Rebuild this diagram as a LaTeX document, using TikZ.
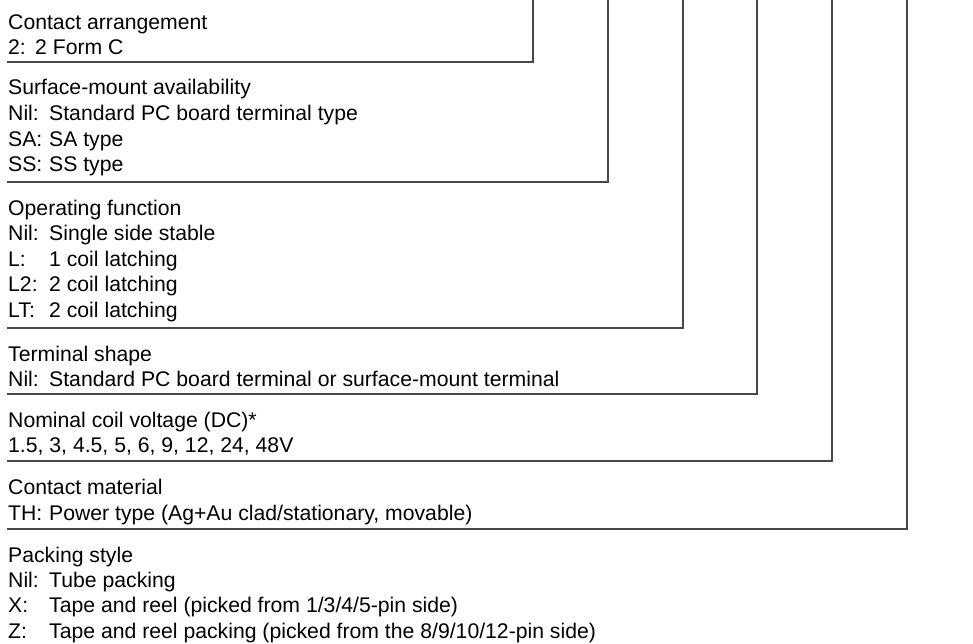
\documentclass[tikz,border=0pt]{standalone}
\usepackage{fontspec}
\setmainfont{Liberation Sans}
\newcommand\pfx[1]{\makebox[41pt][l]{#1}}
\tikzset{
  row/.style={anchor=base west, inner sep=0pt, font=\fontsize{21.2}{25}\selectfont},
  rule/.style={draw=black!72, line width=1.1pt}
}
\begin{document}
\begin{tikzpicture}[x=1pt,y=-1pt]
\useasboundingbox (0,0) rectangle (973,644);
% block 1
\node[row] (a1) at (8,29.5) {Contact arrangement};
\node[row] (a2) at (8,54.5) {\makebox[27pt][l]{2:}2 Form C};
\draw[rule] (7,62) -- (533,62) -- (533,0);
% block 2
\node[row] (b1) at (8,95) {Surface-mount availability};
\node[row] (b2) at (8,120.6) {\pfx{Nil:}Standard PC board terminal type};
\node[row] (b3) at (8,146.2) {\pfx{SA:}SA type};
\node[row] (b4) at (8,171.8) {\pfx{SS:}SS type};
\draw[rule] (7,182) -- (608,182) -- (608,0);
% block 3
\node[row] (c1) at (8,215) {Operating function};
\node[row] (c2) at (8,240.6) {\pfx{Nil:}Single side stable};
\node[row] (c3) at (8,266.2) {\pfx{L:}1 coil latching};
\node[row] (c4) at (8,291.8) {\pfx{L2:}2 coil latching};
\node[row] (c5) at (8,317.4) {\pfx{LT:}2 coil latching};
\draw[rule] (7,328) -- (683,328) -- (683,0);
% block 4
\node[row] (d1) at (8,361) {Terminal shape};
\node[row] (d2) at (8,386.6) {\pfx{Nil:}Standard PC board terminal or surface-mount terminal};
\draw[rule] (7,394) -- (757,394) -- (757,0);
% block 5
\node[row] (e1) at (8,427) {Nominal coil voltage (DC)*};
\node[row] (e2) at (8,452.6) {1.5, 3, 4.5, 5, 6, 9, 12, 24, 48V};
\draw[rule] (7,461) -- (832,461) -- (832,0);
% block 6
\node[row] (f1) at (8,494.5) {Contact material};
\node[row] (f2) at (8,520) {\pfx{TH:}Power type (Ag+Au clad/stationary, movable)};
\draw[rule] (7,529) -- (907,529) -- (907,0);
% block 7
\node[row] (g1) at (8,562) {Packing style};
\node[row] (g2) at (8,587.3) {\pfx{Nil:}Tube packing};
\node[row] (g3) at (8,612.8) {\pfx{X:}Tape and reel (picked from 1/3/4/5-pin side)};
\node[row] (g4) at (8,638.3) {\pfx{Z:}Tape and reel packing (picked from the 8/9/10/12-pin side)};
\end{tikzpicture}
\end{document}
